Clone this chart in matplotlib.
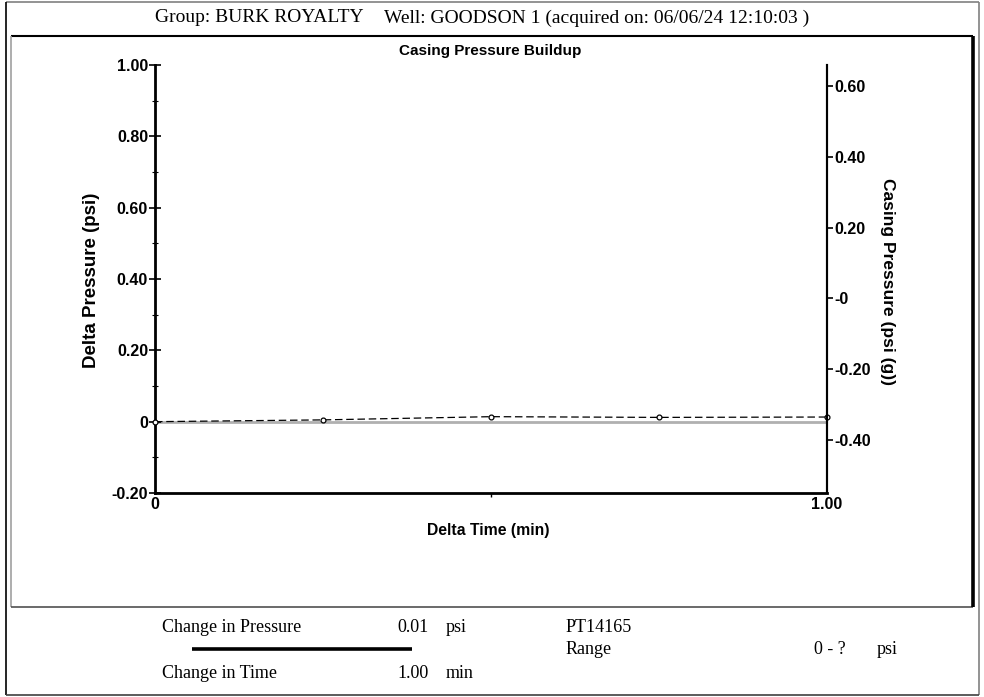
import matplotlib
matplotlib.use("Agg")
import matplotlib.pyplot as plt
from matplotlib.lines import Line2D
from matplotlib.ticker import FixedLocator, FixedFormatter, MultipleLocator

# ---- data ----
delta_time = [0.0, 0.25, 0.5, 0.75, 1.0]
delta_pressure = [0.0, 0.005, 0.014, 0.012, 0.013]
left_ticks = [-0.20, 0.0, 0.20, 0.40, 0.60, 0.80, 1.00]
left_labels = ["-0.20", "0", "0.20", "0.40", "0.60", "0.80", "1.00"]
right_ticks = [-0.40, -0.20, 0.0, 0.20, 0.40, 0.60]
right_labels = ["-0.40", "-0.20", "-0", "0.20", "0.40", "0.60"]
x_ticks = [0.0, 1.0]
x_labels = ["0", "1.00"]

header_group = "Group: BURK ROYALTY"
header_well = "Well: GOODSON 1 (acquired on: 06/06/24 12:10:03 )"
title = "Casing Pressure Buildup"

W, H = 984, 697
fig = plt.figure(figsize=(W / 100, H / 100), dpi=100)

def fx(x):
    return x / W

def fy(y):
    return 1 - y / H

SANS = ["Liberation Sans", "DejaVu Sans"]
SERIF = ["Liberation Serif", "DejaVu Serif"]

# ---- frames ----
def fline(x0, y0, x1, y1, color, lw):
    fig.add_artist(Line2D([fx(x0), fx(x1)], [fy(y0), fy(y1)], color=color,
                          lw=lw, transform=fig.transFigure, solid_capstyle="butt"))

# outer frame
fline(6, 2, 979, 2, "#808080", 1.2)
fline(6, 2, 6, 695, "black", 1.2)
fline(979, 2, 979, 695, "#808080", 1.2)
fline(6, 695, 979, 695, "#404040", 1.2)
# inner frame
fline(10.5, 36, 973, 36, "black", 1.5)
fline(10.5, 36, 10.5, 607, "#a0a0a0", 1.2)
fline(10.5, 607, 973, 607, "#505050", 1.2)
fline(973, 36, 973, 607, "black", 2.6)

# ---- axes ----
ax_l, ax_r, ax_t, ax_b = 155, 827, 65, 493
ax = fig.add_axes([fx(ax_l), fy(ax_b), (ax_r - ax_l) / W, (ax_b - ax_t) / H])
ax.set_xlim(0, 1.0)
ax.set_ylim(-0.2, 1.0)

ax.axhline(0, color="#b0b0b0", lw=2.0, zorder=1)
ax.plot(delta_time, delta_pressure, color="black", lw=0.9, ls=(0, (6, 3)),
        marker="o", ms=3.5, mfc="white", mec="black", mew=0.9, zorder=3,
        clip_on=False)

ax.spines["top"].set_visible(False)
ax.spines["left"].set_linewidth(2.0)
ax.spines["bottom"].set_linewidth(2.0)
ax.spines["right"].set_linewidth(1.5)

TICK_FS = 11.5
ax.yaxis.set_major_locator(FixedLocator(left_ticks))
ax.yaxis.set_major_formatter(FixedFormatter(left_labels))
ax.yaxis.set_minor_locator(MultipleLocator(0.1))
ax.tick_params(axis="y", which="major", direction="inout", length=8, width=1.2,
               pad=1, labelsize=TICK_FS)
ax.tick_params(axis="y", which="minor", direction="inout", length=4, width=0.8)

ax.xaxis.set_major_locator(FixedLocator(x_ticks))
ax.xaxis.set_major_formatter(FixedFormatter(x_labels))
ax.xaxis.set_minor_locator(FixedLocator([0.5]))
ax.tick_params(axis="x", which="major", direction="out", length=0, pad=3,
               labelsize=TICK_FS)
ax.tick_params(axis="x", which="minor", direction="out", length=3, width=1)

for lbl in ax.get_xticklabels() + ax.get_yticklabels():
    lbl.set_fontfamily(SANS)
    lbl.set_fontweight("bold")

ax2 = ax.twinx()
ax2.set_ylim(-0.549, 0.659)
ax2.spines["right"].set_linewidth(1.5)
ax2.spines["top"].set_visible(False)
ax2.spines["left"].set_visible(False)
ax2.spines["bottom"].set_visible(False)
ax2.yaxis.set_major_locator(FixedLocator(right_ticks))
ax2.yaxis.set_major_formatter(FixedFormatter(right_labels))
ax2.tick_params(axis="y", direction="out", length=4, width=1.2, pad=1,
                labelsize=TICK_FS)
for lbl in ax2.get_yticklabels():
    lbl.set_fontfamily(SANS)
    lbl.set_fontweight("bold")

# ---- axis labels / title ----
fig.text(fx(490), fy(51), title, ha="center", va="center", family=SANS,
         weight="bold", fontsize=11)
fig.text(fx(92), fy(280), "Delta Pressure (psi)", ha="center", va="center",
         rotation=90, family=SANS, weight="bold", fontsize=13.5)
fig.text(fx(887), fy(282), "Casing Pressure (psi (g))", ha="center",
         va="center", rotation=-90, family=SANS, weight="bold", fontsize=12.5)
fig.text(fx(488), fy(531), "Delta Time (min)", ha="center", va="center",
         family=SANS, weight="bold", fontsize=11.3)

# ---- header ----
fig.text(fx(155), fy(18), header_group, ha="left", va="center", family=SERIF,
         fontsize=14)
fig.text(fx(384), fy(18), header_well, ha="left", va="center", family=SERIF,
         fontsize=14)

# ---- footer ----
FS = 13
fig.text(fx(162), fy(627), "Change in Pressure", ha="left", va="center",
         family=SERIF, fontsize=FS)
fig.text(fx(429), fy(627), "0.01", ha="right", va="center", family=SERIF,
         fontsize=FS)
fig.text(fx(446), fy(627), "psi", ha="left", va="center", family=SERIF,
         fontsize=FS)
fline(192, 649, 412, 649, "black", 2.6)
fig.text(fx(162), fy(673), "Change in Time", ha="left", va="center",
         family=SERIF, fontsize=FS)
fig.text(fx(429), fy(673), "1.00", ha="right", va="center", family=SERIF,
         fontsize=FS)
fig.text(fx(446), fy(673), "min", ha="left", va="center", family=SERIF,
         fontsize=FS)
fig.text(fx(566), fy(627), "PT14165", ha="left", va="center", family=SERIF,
         fontsize=FS)
fig.text(fx(566), fy(650), "Range", ha="left", va="center", family=SERIF,
         fontsize=FS)
fig.text(fx(814), fy(650), "0 - ?", ha="left", va="center", family=SERIF,
         fontsize=FS)
fig.text(fx(877), fy(650), "psi", ha="left", va="center", family=SERIF,
         fontsize=FS)

fig.savefig("out.png", dpi=100)
